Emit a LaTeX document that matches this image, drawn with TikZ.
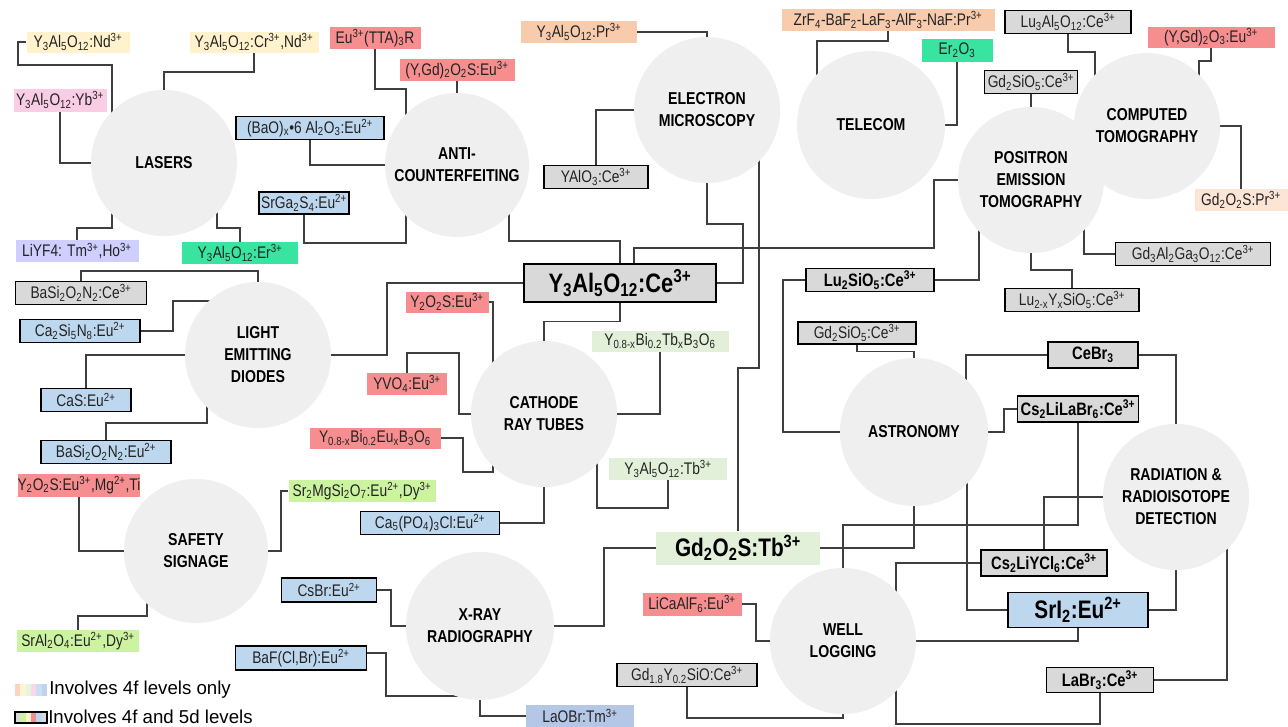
\documentclass[tikz,border=0pt]{standalone}
\usepackage{fontspec}
\setmainfont{Liberation Sans}
\newfontfamily\nar[FakeStretch=0.82]{Liberation Sans}
\usetikzlibrary{calc}
\definecolor{cyel}{RGB}{255,242,204}
\definecolor{cpink}{RGB}{249,206,228}
\definecolor{clav}{RGB}{206,206,255}
\definecolor{cmint}{RGB}{56,228,160}
\definecolor{cred}{RGB}{246,142,144}
\definecolor{cpeach}{RGB}{248,203,173}
\definecolor{clpeach}{RGB}{252,228,214}
\definecolor{cgray}{RGB}{217,217,217}
\definecolor{cblue}{RGB}{189,215,238}
\definecolor{cpgreen}{RGB}{226,240,217}
\definecolor{clime}{RGB}{204,243,160}
\definecolor{clao}{RGB}{180,199,231}
\definecolor{circgray}{RGB}{239,239,239}
\definecolor{linegray}{RGB}{62,62,62}
\definecolor{txt}{RGB}{35,35,35}
\newcommand\xsp[1]{\textsuperscript{#1}}
\newcommand\xsb[1]{\textsubscript{#1}}
\newcommand\labfont{\nar\fontsize{12.6}{14}\selectfont}
\newcommand\blabfont{\nar\bfseries\fontsize{13.5}{16}\selectfont}
\newcommand\biglabfont{\nar\bfseries\fontsize{20}{24}\selectfont}
\newcommand\midlabfont{\nar\bfseries\fontsize{19}{22}\selectfont}
\newcommand\titlefont{\nar\bfseries\fontsize{12.9}{16.5}\selectfont}
\newcommand\legfont{\fontsize{14}{16}\selectfont}
\pgfdeclarelayer{bg}
\pgfdeclarelayer{lines}
\pgfsetlayers{bg,lines,main}
\tikzset{
  circ/.style={circle,fill=circgray,inner sep=0pt,minimum size=#1*1.5pt,font=\titlefont,align=center,text=black},
  sz/.style 2 args={minimum width=#1*0.75pt,minimum height=#2*0.75pt},
  lb/.style={inner sep=0pt,font=\labfont,text=txt},
  bl/.style={inner sep=0pt,font=\blabfont,text=black},
  bd/.style={draw=black,line width=1pt},
  conn/.style={draw=linegray,line width=1.1pt}
}
\begin{document}
\begin{tikzpicture}[x=0.75pt,y=-0.75pt]
\begin{pgfonlayer}{bg}
\fill[white] (0,0) rectangle (1288,726);
\end{pgfonlayer}
\useasboundingbox (0,0) rectangle (1288,726);

% ---------- circles ----------
\node[circ=73] (las) at (164,163) {LASERS};
\node[circ=72] (ac)  at (457,165) {ANTI-\\COUNTERFEITING};
\node[circ=73] (em)  at (707,110) {ELECTRON\\MICROSCOPY};
\node[circ=74] (tel) at (871,125) {TELECOM};
\node[circ=73] (pet) at (1031,180) {POSITRON\\EMISSION\\TOMOGRAPHY};
\node[circ=73] (ct)  at (1147,126) {COMPUTED\\TOMOGRAPHY};
\node[circ=73] (led) at (258,355) {LIGHT\\EMITTING\\DIODES};
\node[circ=73] (crt) at (544,414) {CATHODE\\RAY TUBES};
\node[circ=72] (ss)  at (196,551) {SAFETY\\SIGNAGE};
\node[circ=74] (xr)  at (480,626) {X-RAY\\RADIOGRAPHY};
\node[circ=73] (wl)  at (843,641) {WELL\\LOGGING};
\node[circ=74] (ast) at (914,432) {ASTRONOMY};
\node[circ=73] (rad) at (1176,497) {RADIATION \&\\RADIOISOTOPE\\DETECTION};

% ---------- labels ----------
% lasers
\node[lb,fill=cyel,sz={103}{21}] (nd) at (78,42) {Y\xsb{3}Al\xsb{5}O\xsb{12}:Nd\xsp{3+}};
\node[lb,fill=cyel,sz={129}{21}] (crnd) at (254,42) {Y\xsb{3}Al\xsb{5}O\xsb{12}:Cr\xsp{3+},Nd\xsp{3+}};
\node[lb,fill=cpink,sz={93}{23}] (yb) at (60,100) {Y\xsb{3}Al\xsb{5}O\xsb{12}:Yb\xsp{3+}};
\node[lb,fill=clav,sz={123}{22}] (liyf) at (77,251) {LiYF4: Tm\xsp{3+},Ho\xsp{3+}};
\node[lb,fill=cmint,sz={116}{22}] (yer) at (240,253) {Y\xsb{3}Al\xsb{5}O\xsb{12}:Er\xsp{3+}};
% anti-counterfeiting
\node[lb,fill=cred,sz={91}{22}] (eut) at (375,38) {Eu\xsp{3+}(TTA)\xsb{3}R};
\node[lb,fill=cred,sz={115}{22}] (ygs) at (457,70) {(Y,Gd)\xsb{2}O\xsb{2}S:Eu\xsp{3+}};
\node[lb,bd,fill=cblue,sz={148}{23}] (bao) at (310,128) {(BaO)\xsb{x}•6 Al\xsb{2}O\xsb{3}:Eu\xsp{2+}};
\node[lb,bd,fill=cblue,sz={90}{22}] (sgs) at (304,203) {SrGa\xsb{2}S\xsb{4}:Eu\xsp{2+}};
% electron microscopy
\node[lb,fill=cpeach,sz={116}{22}] (pr) at (579,32) {Y\xsb{3}Al\xsb{5}O\xsb{12}:Pr\xsp{3+}};
\node[lb,bd,fill=cgray,sz={104}{23}] (yalo) at (596,177) {YAlO\xsb{3}:Ce\xsp{3+}};
% telecom
\node[lb,fill=cpeach,sz={213}{22}] (zr) at (888,20) {ZrF\xsb{4}-BaF\xsb{2}-LaF\xsb{3}-AlF\xsb{3}-NaF:Pr\xsp{3+}};
\node[lb,fill=cmint,sz={71}{23}] (er) at (957,50) {Er\xsb{2}O\xsb{3}};
% PET
\node[lb,bd,fill=cgray,sz={93}{23}] (gso1) at (1031,82) {Gd\xsb{2}SiO\xsb{5}:Ce\xsp{3+}};
\node[bl,bd,fill=cgray,sz={128}{23}] (lso) at (870,280) {Lu\xsb{2}SiO\xsb{5}:Ce\xsp{3+}};
\node[lb,bd,fill=cgray,sz={155}{23}] (gag) at (1193,254) {Gd\xsb{3}Al\xsb{2}Ga\xsb{3}O\xsb{12}:Ce\xsp{3+}};
\node[lb,bd,fill=cgray,sz={134}{23}] (lyso) at (1072,300) {Lu\xsb{2-x}Y\xsb{x}SiO\xsb{5}:Ce\xsp{3+}};
% CT
\node[lb,bd,fill=cgray,sz={126}{23}] (luag) at (1068,22) {Lu\xsb{3}Al\xsb{5}O\xsb{12}:Ce\xsp{3+}};
\node[lb,fill=cred,sz={127}{21}] (ygo) at (1211,37) {(Y,Gd)\xsb{2}O\xsb{3}:Eu\xsp{3+}};
\node[lb,fill=clpeach,sz={93}{22}] (gpr) at (1241,200) {Gd\xsb{2}O\xsb{2}S:Pr\xsp{3+}};
% LED
\node[lb,bd,fill=cgray,sz={131}{23}] (bsc) at (81,293) {BaSi\xsb{2}O\xsb{2}N\xsb{2}:Ce\xsp{3+}};
\node[lb,bd,fill=cblue,sz={120}{23}] (csn) at (80,331) {Ca\xsb{2}Si\xsb{5}N\xsb{8}:Eu\xsp{2+}};
\node[lb,bd,fill=cblue,sz={90}{23}] (cas) at (86,400) {CaS:Eu\xsp{2+}};
\node[lb,bd,fill=cblue,sz={130}{23}] (bse) at (106,452) {BaSi\xsb{2}O\xsb{2}N\xsb{2}:Eu\xsp{2+}};
% centre
\node[inner sep=0pt,font=\biglabfont,bd,fill=cgray,sz={192}{38}] (yag) at (620,283) {Y\xsb{3}Al\xsb{5}O\xsb{12}:Ce\xsp{3+}};
% CRT
\node[lb,fill=cred,sz={83}{21}] (yos) at (447,302) {Y\xsb{2}O\xsb{2}S:Eu\xsp{3+}};
\node[lb,fill=cred,sz={80}{22}] (yvo) at (407,384) {YVO\xsb{4}:Eu\xsp{3+}};
\node[lb,fill=cred,sz={131}{21}] (ybe) at (375,438) {Y\xsb{0.8-x}Bi\xsb{0.2}Eu\xsb{x}B\xsb{3}O\xsb{6}};
\node[lb,fill=cpgreen,sz={137}{21}] (ybt) at (660,341) {Y\xsb{0.8-x}Bi\xsb{0.2}Tb\xsb{x}B\xsb{3}O\xsb{6}};
\node[lb,fill=cpgreen,sz={118}{22}] (yat) at (668,469) {Y\xsb{3}Al\xsb{5}O\xsb{12}:Tb\xsp{3+}};
\node[lb,bd,fill=cblue,sz={139}{23}] (cap) at (430,523) {Ca\xsb{5}(PO\xsb{4})\xsb{3}Cl:Eu\xsp{2+}};
% safety
\node[lb,fill=cred,sz={119}{23}] (yom) at (79,485) {Y\xsb{2}O\xsb{2}S:Eu\xsp{3+},Mg\xsp{2+},Ti};
\node[lb,fill=clime,sz={147}{22}] (smg) at (362,491) {Sr\xsb{2}MgSi\xsb{2}O\xsb{7}:Eu\xsp{2+},Dy\xsp{3+}};
\node[lb,fill=clime,sz={122}{22}] (sal) at (78,641) {SrAl\xsb{2}O\xsb{4}:Eu\xsp{2+},Dy\xsp{3+}};
% x-ray
\node[lb,bd,fill=cblue,sz={95}{24}] (csb) at (329,590) {CsBr:Eu\xsp{2+}};
\node[lb,bd,fill=cblue,sz={131}{24}] (baf) at (301,658) {BaF(Cl,Br):Eu\xsp{2+}};
\node[lb,fill=clao,sz={108}{22}] (lao) at (580,716) {LaOBr:Tm\xsp{3+}};
\node[inner sep=0pt,font=\midlabfont,fill=cpgreen,sz={164}{33}] (gdos) at (738,548) {Gd\xsb{2}O\xsb{2}S:Tb\xsp{3+}};
% well logging
\node[lb,fill=cred,sz={99}{23}] (lcf) at (692,604) {LiCaAlF\xsb{6}:Eu\xsp{3+}};
\node[lb,bd,fill=cgray,sz={140}{23}] (gys) at (687,675) {Gd\xsb{1.8}Y\xsb{0.2}SiO:Ce\xsp{3+}};
% astronomy / radiation
\node[lb,bd,fill=cgray,sz={118}{22}] (gso2) at (857,333) {Gd\xsb{2}SiO\xsb{5}:Ce\xsp{3+}};
\node[bl,bd,fill=cgray,sz={90}{26}] (ceb) at (1093,355) {CeBr\xsb{3}};
\node[bl,bd,fill=cgray,sz={121}{26}] (clb) at (1078,409) {Cs\xsb{2}LiLaBr\xsb{6}:Ce\xsp{3+}};
\node[bl,bd,fill=cgray,sz={126}{26}] (cly) at (1044,563) {Cs\xsb{2}LiYCl\xsb{6}:Ce\xsp{3+}};
\node[inner sep=0pt,font=\midlabfont,bd,fill=cblue,sz={140}{35}] (sri) at (1078,610) {SrI\xsb{2}:Eu\xsp{2+}};
\node[bl,bd,fill=cgray,sz={107}{25}] (lab) at (1100,680) {LaBr\xsb{3}:Ce\xsp{3+}};

% ---------- legend ----------
\foreach \c [count=\i from 0] in {cpeach,cyel,cpgreen,cpink,cblue,clao}
  \fill[\c!80] (15+\i*5.3,684) rectangle (20.3+\i*5.3,696);
\foreach \c [count=\i from 0] in {cgray,clime,cyel,cred,cblue,cgray}
  \fill[\c] (15+\i*5.3,712) rectangle (20.3+\i*5.3,723);
\draw[line width=1.6pt] (15,712) rectangle (46.8,723);
\node[anchor=west,inner sep=0pt,font=\legfont] (leg1) at (49,690) {Involves 4f levels only};
\node[anchor=west,inner sep=0pt,font=\legfont] (leg2) at (48,717) {Involves 4f and 5d levels};

% ---------- connectors ----------
\begin{pgfonlayer}{lines}
% lasers
\draw[conn] (nd.west) -- (18,42) |- (112,65) |- (las.center);
\draw[conn] (crnd.south) -- ++(0,19) -| (las.center);
\draw[conn] (yb.south) |- (las.center);
\draw[conn] (liyf.north) |- (112,228) |- (las.center);
\draw[conn] (yer.north) |- (217,228) |- (las.center);
% anti-counterfeiting
\draw[conn] (eut.south) |- (406,89) |- (ac.center);
\draw[conn] (ygs.south) -- (ac.center);
\draw[conn] (bao.south) |- (ac.center);
\draw[conn] (sgs.south) |- (406,243) |- (ac.center);
\draw[conn] (yag.north) |- (509,241) |- (ac.center);
% electron microscopy
\draw[conn] (pr.east) -| (em.center);
\draw[conn] (yalo.north) |- (em.center);
\draw[conn] (yag.east) -| (743,224) -| (em.center);
\draw[conn] (gdos.north) |- (759,368) |- (em.center);
% telecom
\draw[conn] (zr.south) |- (817,41) |- (tel.center);
\draw[conn] (er.south) |- (tel.center);
% PET
\draw[conn] ($(yag.north)+(14,0)$) |- (934,248) |- (pet.center);
\draw[conn] (gso1.south) -- (pet.center);
\draw[conn] (lso.east) -- (979,280) |- (pet.center);
\draw[conn] (gag.west) -- (1084,254) |- (pet.center);
\draw[conn] (lyso.north) -- ++(0,-18) -| (pet.center);
% CT
\draw[conn] (luag.south) |- (1095,52) |- (ct.center);
\draw[conn] (ygo.south) |- (1199,61) |- (ct.center);
\draw[conn] (gpr.north) |- (ct.center);
% LED
\draw[conn] (bsc.north) -- ++(0,-10) -| (led.center);
\draw[conn] (csn.east) -| (173,301) -| (led.center);
\draw[conn] (cas.north) |- (led.center);
\draw[conn] (bse.north) |- (207,423) |- (led.center);
\draw[conn] (yag.west) -- (387,283) |- (led.center);
% CRT
\draw[conn] (yag.south) -- ++(0,19) -| (crt.center);
\draw[conn] (yos.east) -- (493,302) |- (crt.center);
\draw[conn] (yvo.north) |- (459,353) |- (crt.center);
\draw[conn] (ybe.east) -| (463,472) -- (493,472) |- (crt.center);
\draw[conn] (ybt.south) |- (crt.center);
\draw[conn] (yat.south) |- (597,508) |- (crt.center);
\draw[conn] (cap.east) -| (crt.center);
% safety
\draw[conn] (yom.south) |- (ss.center);
\draw[conn] (smg.west) -- (281,491) |- (ss.center);
\draw[conn] (sal.north) |- (147,616) |- (ss.center);
% x-ray
\draw[conn] (csb.east) -- (391,590) |- (xr.center);
\draw[conn] ($(baf.east)+(0,-5)$) -- (386,653) |- (430,696) -| (xr.center);
\draw[conn] (xr.center) |- (lao.west);
\draw[conn] (gdos.west) -- (604,548) |- (xr.center);
% well logging
\draw[conn] (lcf.east) -- (756,604) |- (wl.center);
\draw[conn] (gys.south) -- (687,718) -| (wl.center);
\draw[conn] (cly.west) -- (896,563) |- (wl.center);
\draw[conn] (sri.south) |- (wl.center);
\draw[conn] (lab.south) |- (896,724) |- (wl.center);
\draw[conn] (clb.south) -- (1078,525) -| (wl.center);
% astronomy
\draw[conn] (lso.west) -- (783,280) |- (ast.center);
\draw[conn] (gso2.south) -- ++(0,7) -| (ast.center);
\draw[conn] (ceb.west) -- (966,355) |- (ast.center);
\draw[conn] (clb.west) -- (1004,409) |- (ast.center);
\draw[conn] (gdos.east) -| (ast.center);
\draw[conn] (sri.west) -- (967,610) |- (ast.center);
% radiation
\draw[conn] (ceb.east) -| (rad.center);
\draw[conn] (cly.north) |- (rad.center);
\draw[conn] (sri.east) -| (rad.center);
\draw[conn] (lab.east) -- (1227,680) |- (rad.center);
\end{pgfonlayer}
\end{tikzpicture}
\end{document}
